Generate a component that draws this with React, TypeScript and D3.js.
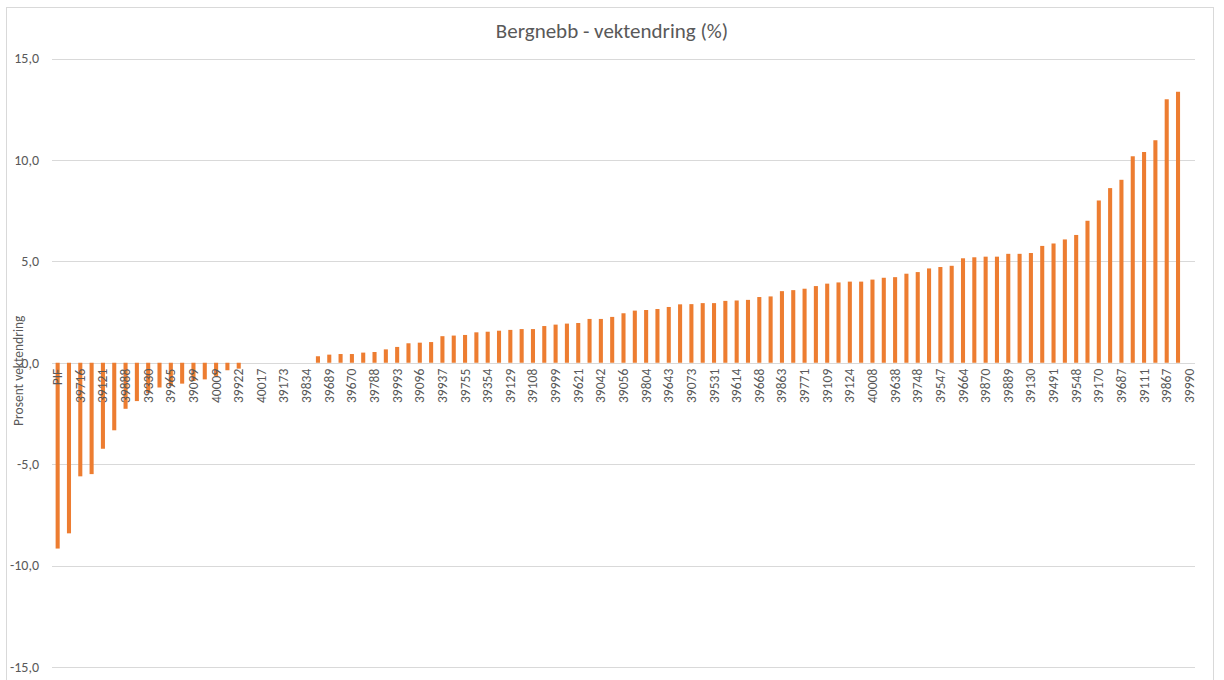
import React from "react";
import * as d3 from "d3";

const title = "Bergnebb - vektendring (%)";
const yAxisTitle = "Prosent vektendring";

// Visible category labels (Excel shows every second category)
const tickLabels = [
  "PIF", "39716", "39121", "39888", "39330", "39965", "39099", "40009", "39922", "40017",
  "39173", "39834", "39689", "39670", "39788", "39993", "39096", "39937", "39755", "39354",
  "39129", "39108", "39999", "39621", "39042", "39056", "39804", "39643", "39073", "39531",
  "39614", "39668", "39863", "39771", "39109", "39124", "40008", "39638", "39748", "39547",
  "39664", "39870", "39889", "39130", "39491", "39548", "39170", "39687", "39111", "39867",
  "39990",
];

// Values for all 101 categories (percent weight change)
const values: (number | null)[] = [
  -9.16, -8.41, -5.6, -5.49, -4.24, -3.33, -2.27, -1.89, -1.5, -1.22,
  -1.15, -1.03, -0.9, -0.82, -0.65, -0.37, -0.29, 0, 0, 0,
  0, 0, 0, 0.32, 0.4, 0.43, 0.43, 0.5, 0.53, 0.66,
  0.78, 0.96, 0.99, 1.02, 1.31, 1.34, 1.37, 1.5, 1.53, 1.58,
  1.62, 1.66, 1.66, 1.81, 1.88, 1.93, 1.96, 2.16, 2.16, 2.26,
  2.44, 2.57, 2.6, 2.65, 2.75, 2.88, 2.89, 2.94, 2.94, 3.05,
  3.07, 3.1, 3.24, 3.27, 3.53, 3.58, 3.65, 3.78, 3.9, 3.96,
  4.0, 4.0, 4.1, 4.19, 4.22, 4.39, 4.47, 4.65, 4.72, 4.78,
  5.15, 5.2, 5.23, 5.23, 5.37, 5.37, 5.41, 5.76, 5.88, 6.08,
  6.3, 7.0, 8.0, 8.61, 9.02, 10.18, 10.39, 10.97, 12.99, 13.36,
  null,
];

const yTicks = [15, 10, 5, 0, -5, -10, -15];

const W = 1224;
const H = 680;
const plot = { left: 52, right: 1195, top: 58.5, bottom: 667 };
const font = "Calibri, Carlito, 'Liberation Sans', Arial, sans-serif";
const textColor = "#595959";

export default function App() {
  const idx = values.map((_, i) => i);
  const x = d3
    .scaleBand<number>()
    .domain(idx)
    .range([plot.left, plot.right])
    .paddingInner(0.64)
    .paddingOuter(0.32);
  const y = d3.scaleLinear().domain([-15, 15]).range([plot.bottom, plot.top]);
  const fmt = (v: number) => d3.format(".1f")(v).replace(".", ",").replace("−", "-");
  const center = (i: number) => (x(i) ?? 0) + x.bandwidth() / 2;

  return (
    <svg
      width={W}
      height={H}
      style={{ position: "absolute", left: 0, top: 0, background: "#fff" }}
      fontFamily={font}
    >
      <rect x={6.5} y={7.5} width={1207} height={700} fill="#fff" stroke="#d9d9d9" />
      <text x={612} y={38} textAnchor="middle" fontSize={21} fill={textColor}>
        {title}
      </text>
      {yTicks.map((t) => (
        <g key={t}>
          <line
            x1={plot.left}
            x2={plot.right}
            y1={Math.round(y(t)) + 0.5}
            y2={Math.round(y(t)) + 0.5}
            stroke="#d9d9d9"
            strokeWidth={1}
          />
          <text
            x={39}
            y={y(t)}
            dy="0.35em"
            textAnchor="end"
            fontSize={14}
            fill={textColor}
          >
            {fmt(t)}
          </text>
        </g>
      ))}
      <text
        transform={`translate(23, ${(plot.top + plot.bottom) / 2 + 8}) rotate(-90)`}
        textAnchor="middle"
        fontSize={13.5}
        fill={textColor}
      >
        {yAxisTitle}
      </text>
      {values.map((v, i) =>
        v === null || v === 0 ? null : (
          <rect
            key={i}
            x={x(i)}
            width={x.bandwidth()}
            y={y(Math.max(0, v))}
            height={Math.abs(y(v) - y(0))}
            fill="#ED7D31"
          />
        )
      )}
      {tickLabels.map((lab, k) => {
        const i = k * 2;
        return (
          <text
            key={lab + k}
            transform={`translate(${center(i) + 4.5}, ${y(0) + 6}) rotate(-90)`}
            textAnchor="end"
            fontSize={13.5}
            fill={textColor}
          >
            {lab}
          </text>
        );
      })}
    </svg>
  );
}
